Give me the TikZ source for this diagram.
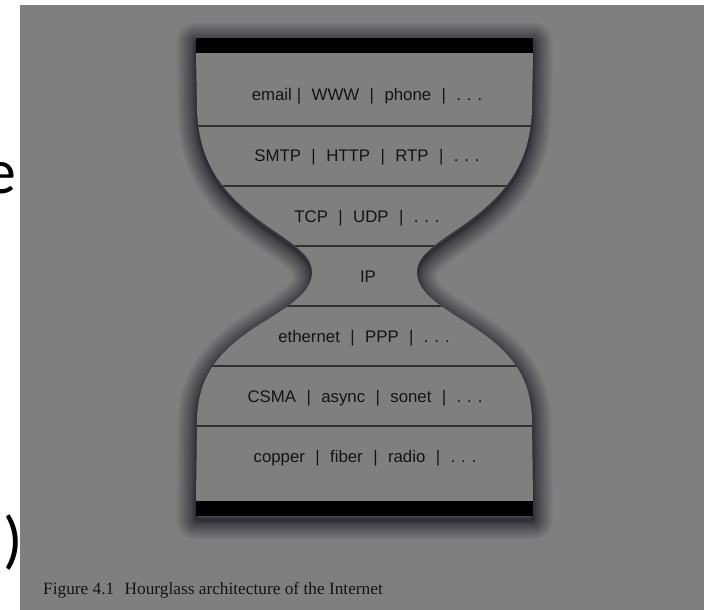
\documentclass[tikz,border=0pt]{standalone}
\usepackage{fontspec}
\setmainfont{Liberation Serif}
\newfontfamily\labelfont{Liberation Sans}
\newfontfamily\slidefont{Carlito}
\definecolor{bgc}{RGB}{127,127,127}
\definecolor{shadowc}{RGB}{22,22,32}
\definecolor{linec}{RGB}{48,48,48}
\definecolor{txtc}{RGB}{20,20,20}
\newcommand\hgshape[1]{\path[#1] (196,38) -- (533,38) -- (533,53) -- (532,110)
  .. controls (530,170) and (499,200) .. (459,228)
  .. controls (429,248) and (417,258) .. (417,272)
  .. controls (417,290) and (434,302) .. (459,318)
  .. controls (504,345) and (531,370) .. (532,420)
  -- (533,501) -- (533,516) -- (196,516) -- (196,501) -- (197,420)
  .. controls (198,370) and (225,345) .. (270,318)
  .. controls (295,302) and (312,290) .. (312,272)
  .. controls (312,258) and (300,248) .. (270,228)
  .. controls (230,200) and (199,170) .. (197,110)
  -- (196,53) -- cycle;}
\newcommand\sepbar{\hspace{0.62em}|\hspace{0.62em}}
\newcommand\dotz{.\hspace{0.35em}.\hspace{0.35em}.}
\tikzset{
  layerlabel/.style={anchor=base, inner sep=0pt, font=\labelfont\fontsize{16.8}{20}\selectfont, text=txtc},
  layerline/.style={draw=linec, line width=1.6pt},
  slidetext/.style={anchor=base east, inner sep=0pt, font=\slidefont\fontsize{64}{70}\selectfont, text=black},
  endbar/.style={fill=black}
}
\begin{document}
\begin{tikzpicture}[x=1pt,y=-1pt]
\useasboundingbox (0,0) rectangle (710,610);
\fill[white] (0,0) rectangle (710,610);
\fill[bgc] (20,5) rectangle (704,610);
\node[slidetext] (e) at (17,193) {e};
\node[slidetext] (paren) at (23,561) {)};
% soft shadow
\begin{scope}[yshift=-4pt]
\foreach \i in {1,...,24} {
  \pgfmathsetmacro\lw{1.5+0.065*\i*\i}
  \hgshape{draw=shadowc, line width=\lw pt, draw opacity=0.05, line join=round}
}
\end{scope}
\hgshape{fill=bgc}
\begin{scope}
\hgshape{clip}
\foreach \yy in {126,186,246,306,366,426} {
  \draw[layerline] (190,\yy) -- (540,\yy);
}
\end{scope}
\fill[endbar] (196,38) rectangle (533,53);
\fill[endbar] (196,501) rectangle (533,516);
\node[layerlabel] (app) at (367,100) {email\hspace{0.3em}|\hspace{0.62em}WWW\sepbar phone\sepbar\dotz};
\node[layerlabel] (proto) at (367,161) {SMTP\sepbar HTTP\sepbar RTP\sepbar\dotz};
\node[layerlabel] (trans) at (367,222) {TCP\sepbar UDP\sepbar\dotz};
\node[layerlabel] (ip) at (368,282) {IP};
\node[layerlabel] (link) at (364,342) {ethernet\sepbar PPP\sepbar\dotz};
\node[layerlabel] (mac) at (365,402) {CSMA\sepbar async\sepbar sonet\sepbar\dotz};
\node[layerlabel] (phys) at (365,462) {copper\sepbar fiber\sepbar radio\sepbar\dotz};
\node[anchor=base west, inner sep=0pt, font=\fontsize{17.3}{20}\selectfont, text=txtc] (cap) at (43,594) {Figure 4.1\hspace{0.6em}Hourglass architecture of the Internet};
\end{tikzpicture}
\end{document}
